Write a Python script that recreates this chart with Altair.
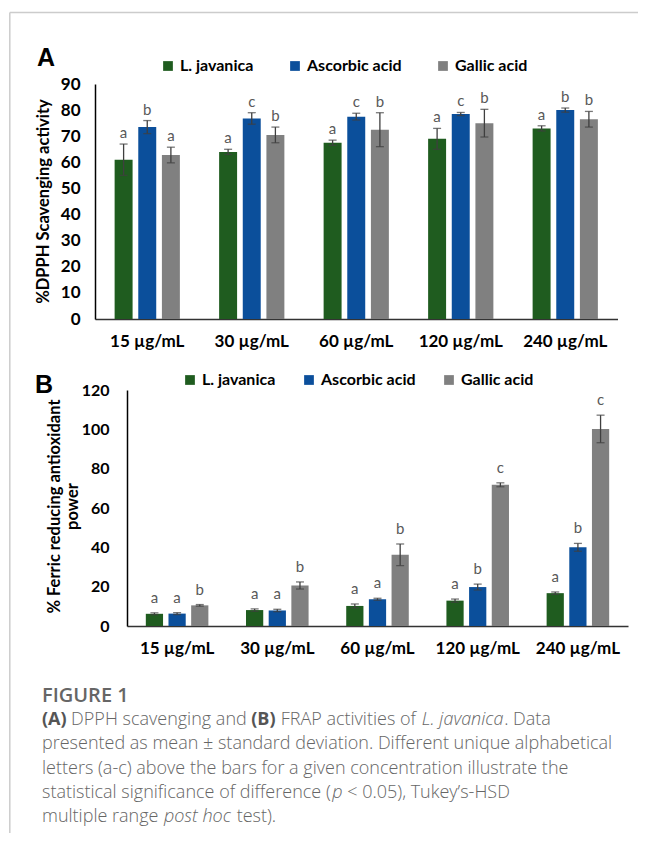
import altair as alt
import pandas as pd

concs = ["15 µg/mL", "30 µg/mL", "60 µg/mL", "120 µg/mL", "240 µg/mL"]
series = ["L. javanica", "Ascorbic acid", "Gallic acid"]
colors = ["#1f5c1f", "#0b4f9b", "#808080"]

# Panel A - DPPH scavenging activity (%)
dpph_lj = [61.0, 64.0, 67.5, 69.0, 73.0]
dpph_lj_sd = [6.0, 1.0, 1.0, 4.0, 1.0]
dpph_lj_sig = ["a", "a", "a", "a", "a"]
dpph_aa = [73.5, 76.8, 77.5, 78.5, 80.0]
dpph_aa_sd = [2.5, 2.2, 1.3, 0.6, 0.8]
dpph_aa_sig = ["b", "c", "c", "c", "b"]
dpph_ga = [62.8, 70.5, 72.5, 75.0, 76.5]
dpph_ga_sd = [3.0, 3.0, 6.5, 5.3, 3.0]
dpph_ga_sig = ["a", "b", "b", "b", "b"]

# Panel B - Ferric reducing antioxidant power (%)
frap_lj = [6.2, 8.1, 10.2, 12.9, 16.7]
frap_lj_sd = [0.5, 0.6, 1.0, 0.8, 0.6]
frap_lj_sig = ["a", "a", "a", "a", "a"]
frap_aa = [6.3, 7.9, 13.6, 19.8, 40.0]
frap_aa_sd = [0.5, 0.6, 0.5, 1.5, 2.0]
frap_aa_sig = ["a", "a", "a", "b", "b"]
frap_ga = [10.5, 20.6, 36.2, 71.8, 100.2]
frap_ga_sd = [0.4, 1.8, 5.5, 1.0, 7.0]
frap_ga_sig = ["b", "b", "b", "c", "c"]

caption_title = "FIGURE 1"
# caption lines as (text, style) runs: n = normal, b = bold, i = italic
caption_lines = [
    [("(A)", "b"), (" DPPH scavenging and ", "n"), ("(B)", "b"),
     (" FRAP activities of ", "n"), ("L. javanica", "i"), (". Data", "n")],
    [("presented as mean ± standard deviation. Different unique alphabetical", "n")],
    [("letters (a-c) above the bars for a given concentration illustrate the", "n")],
    [("statistical significance of difference (", "n"), ("p", "i"),
     (" < 0.05), Tukey’s-HSD", "n")],
    [("multiple range ", "n"), ("post hoc", "i"), (" test).", "n")],
]

W, H = 630, 825          # whole drawing area (page coords = drawing coords + 8)
M = 8                    # page margin


def long_df(vals, sds, sigs):
    rows = []
    for s, v, e, g in zip(series, vals, sds, sigs):
        for c, vv, ee, gg in zip(concs, v, e, g):
            rows.append({"conc": c, "series": s, "value": vv,
                         "lo": vv - ee, "hi": vv + ee, "sig": gg})
    return pd.DataFrame(rows)


dfA = long_df([dpph_lj, dpph_aa, dpph_ga], [dpph_lj_sd, dpph_aa_sd, dpph_ga_sd],
              [dpph_lj_sig, dpph_aa_sig, dpph_ga_sig])
dfB = long_df([frap_lj, frap_aa, frap_ga], [frap_lj_sd, frap_aa_sd, frap_ga_sd],
              [frap_lj_sig, frap_aa_sig, frap_ga_sig])

dummy = pd.DataFrame({"d": [0]})
FRAME = "#cccccc"
ERR = "#3f3f3f"


def panel(df, ymax, ystep, ytitle, x0, x1, ybot, ytop, title_x, title_y,
          ylab_pad, ylab_size, leg_x, leg_y, leg_pad, sig_dy):
    # all positions given in page pixels, converted to drawing coordinates
    x = alt.X("conc:N", sort=concs,
              scale=alt.Scale(range=[x0 - M, x1 - M], paddingInner=0, paddingOuter=0),
              axis=alt.Axis(title=None, orient="bottom", offset=-(H - (ybot - M)),
                            labelAngle=0, labelFont="Lato", labelFontSize=17,
                            labelFontWeight="bold", labelColor="black", labelPadding=14,
                            ticks=False, tickSize=0, domainColor="#333333", domainWidth=1.5,
                            grid=False, labelOverlap=False))
    xo = alt.XOffset("series:N", sort=series,
                     scale=alt.Scale(paddingInner=0.24, paddingOuter=0.83))
    y = alt.Y("value:Q",
              scale=alt.Scale(domain=[0, ymax], range=[ybot - M, ytop - M], nice=False),
              axis=alt.Axis(title=ytitle, orient="left", offset=-(x0 - M),
                            values=list(range(0, ymax + 1, ystep)),
                            labelFont="Lato", labelFontSize=ylab_size, labelFontWeight="bold",
                            labelColor="black", labelPadding=ylab_pad, ticks=False, tickSize=0,
                            domainColor="black", domainWidth=1.5, grid=False,
                            labelOverlap=False, labelFlush=False,
                            titleFont="Lato", titleFontSize=16.5, titleFontWeight="bold",
                            titleColor="black", titleX=title_x, titleY=title_y - M,
                            titleAngle=270, titleBaseline="middle", titleLineHeight=18))
    base = alt.Chart(df)
    bars = base.mark_bar().encode(
        x=x, xOffset=xo, y=y,
        color=alt.Color("series:N", sort=series,
                        scale=alt.Scale(domain=series, range=colors),
                        legend=alt.Legend(title=None, orient="none",
                                          legendX=leg_x - M, legendY=leg_y - M,
                                          direction="horizontal", symbolType="square",
                                          symbolSize=95, symbolStrokeWidth=0, symbolOpacity=1,
                                          labelFont="Lato", labelFontSize=16,
                                          labelFontWeight="bold", labelColor="black",
                                          columnPadding=leg_pad, labelOffset=4, padding=0)))
    rule = base.mark_rule(color=ERR, strokeWidth=1.3).encode(
        x=x, xOffset=xo, y="lo:Q", y2="hi:Q")
    cap_hi = base.mark_tick(color=ERR, thickness=1.3, size=8).encode(x=x, xOffset=xo, y="hi:Q")
    cap_lo = base.mark_tick(color=ERR, thickness=1.3, size=8).encode(x=x, xOffset=xo, y="lo:Q")
    sig = base.mark_text(baseline="bottom", dy=sig_dy, font="Lato", fontSize=15,
                         color="#595959").encode(x=x, xOffset=xo, y="hi:Q", text="sig:N")
    return alt.layer(bars, rule, cap_hi, cap_lo, sig)


panelA = panel(dfA, 90, 10, "%DPPH Scavenging activity", 95, 617.5, 319, 84,
               title_x=-52, title_y=201, ylab_pad=15, ylab_size=17,
               leg_x=160, leg_y=58, leg_pad=33, sig_dy=-3)
panelB = panel(dfB, 120, 20, ["% Ferric reducing antioxidant", "power"], 127, 628, 626, 390,
               title_x=-73, title_y=506, ylab_pad=18, ylab_size=16,
               leg_x=182, leg_y=372, leg_pad=25, sig_dy=-7)


def txt(s, px, py, **kw):
    return alt.Chart(dummy).mark_text(text=s, align="left", **kw).encode(
        x=alt.value(px - M), y=alt.value(py - M))


# approximate Open Sans advance widths (units per em = 2048), used only to
# place the bold / italic runs of the caption next to each other
OS_W = {" ": 532, "(": 545, ")": 545, ".": 545, ",": 512, "-": 659, "’": 356,
        "<": 1171, "±": 1171, "A": 1296, "B": 1327, "D": 1479, "P": 1255, "H": 1511,
        "F": 1067, "R": 1276, "L": 1094, "S": 1124, "T": 1116,
        "a": 1139, "b": 1255, "c": 975, "d": 1255, "e": 1149, "f": 694, "g": 1122,
        "h": 1257, "i": 518, "j": 518, "k": 1075, "l": 518, "m": 1905, "n": 1257,
        "o": 1237, "p": 1255, "r": 836, "s": 977, "t": 723, "u": 1257, "v": 1026,
        "w": 1593, "x": 1073, "y": 1028}
CAP_SIZE = 18
REF_LINE_PX = 570.0      # rendered width of the plain second caption line


def raw_w(s):
    return sum(OS_W.get(ch, 1171) for ch in s) / 2048.0 * CAP_SIZE


calib = REF_LINE_PX / raw_w(caption_lines[1][0][0])
style_k = {"n": 1.0, "b": 1.22, "i": 0.985}

deco = [
    # figure frame (left and top lines)
    alt.Chart(dummy).mark_rule(color=FRAME, strokeWidth=1.5).encode(
        x=alt.value(9.8 - M), y=alt.value(12.5 - M), y2=alt.value(H)),
    alt.Chart(dummy).mark_rule(color=FRAME, strokeWidth=1.5).encode(
        x=alt.value(9.8 - M), x2=alt.value(W), y=alt.value(12.5 - M)),
    txt("A", 37, 66, font="Liberation Sans", fontWeight="bold", fontSize=25,
        baseline="alphabetic", color="black"),
    txt("B", 35, 393, font="Liberation Sans", fontWeight="bold", fontSize=25,
        baseline="alphabetic", color="black"),
    txt(caption_title, 42, 696, font="Open Sans", fontWeight=600, fontSize=20,
        baseline="middle", color="#666666"),
]
for i, runs in enumerate(caption_lines):
    cx = 42.0
    for s, st in runs:
        kw = dict(font="Open Sans", fontSize=CAP_SIZE, baseline="middle", color="#666666",
                  fontWeight=300)
        if st == "b":
            kw.update(fontWeight=700, color="#555555")
        elif st == "i":
            kw.update(fontStyle="italic")
        lead = len(s) - len(s.lstrip(" "))
        cx += raw_w(" " * lead) * calib          # SVG drops leading spaces
        body = s.strip(" ")
        deco.append(txt(body, cx, 720 + 24.3 * i, **kw))
        cx += raw_w(s.lstrip(" ")) * calib * style_k[st]

chart = alt.layer(panelA, panelB, *deco).resolve_scale(
    x="independent", y="independent", xOffset="independent", color="independent"
).properties(
    width=W, height=H, padding=0, background="white",
    autosize=alt.AutoSizeParams(type="none")
).configure_view(stroke=None)

chart.save("out.html", embed_options={"renderer": "svg", "actions": False})
